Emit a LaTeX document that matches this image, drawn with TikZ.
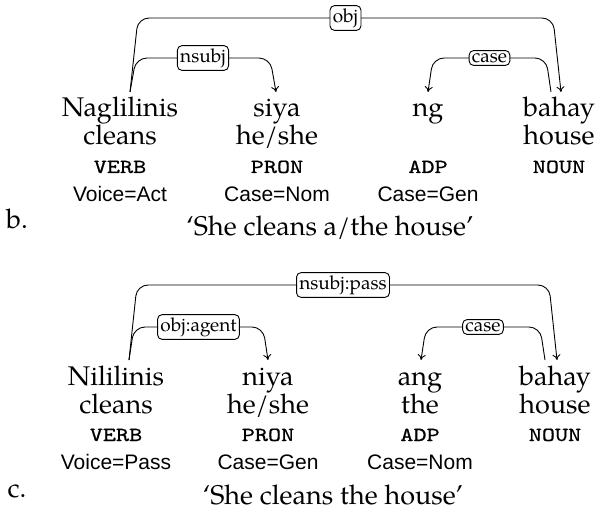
\documentclass[tikz,border=0pt]{standalone}
\usepackage{fontspec}
\setmainfont{TeX Gyre Pagella}
\setsansfont{Liberation Sans}
\newfontfamily\posfont{lmmono10-regular.otf}[FakeStretch=1.25,FakeBold=0.7]
\usetikzlibrary{arrows.meta}
\begin{document}
\begin{tikzpicture}[x=1pt,y=-1pt,
  word/.style={anchor=base,inner sep=0pt,font=\fontsize{27}{32}\selectfont},
  posx/.style={anchor=base,inner sep=0pt,font=\fontsize{20}{24}\posfont},
  feat/.style={anchor=base,inner sep=0pt,font=\fontsize{21}{25}\sffamily},
  lab/.style={draw,rounded corners=4.5pt,fill=white,inner sep=2.8pt,line width=0.9pt,font=\fontsize{19}{21}\selectfont},
  dep/.style={line width=0.9pt,rounded corners=11pt},
  arr/.style={-{To[length=5.5pt,width=8pt]}}
]
\useasboundingbox (0,0) rectangle (597,513);

% ---------- b ----------
\node[word] (b) at (17,229) {b.};
\node[word] (bw1) at (120,117) {Naglilinis};
\node[word] (bg1) at (120,145) {cleans};
\node[posx]  (bp1) at (120,173) {VERB};
\node[feat] (bf1) at (120,202) {Voice=Act};
\node[word] (bw2) at (277,117) {siya};
\node[word] (bg2) at (277,145) {he/she};
\node[posx]  (bp2) at (277,173) {PRON};
\node[feat] (bf2) at (277,202) {Case=Nom};
\node[word] (bw3) at (428,117) {ng};
\node[posx]  (bp3) at (428,173) {ADP};
\node[feat] (bf3) at (428,202) {Case=Gen};
\node[word] (bw4) at (559,117) {bahay};
\node[word] (bg4) at (559,145) {house};
\node[posx]  (bp4) at (559,173) {NOUN};
\node[word] (bt) at (330,236) {‘She cleans a/the house’};

\coordinate (bs1) at (130,92);
\coordinate (bs4) at (551,92);
\coordinate (be2) at (276,92);
\coordinate (be3) at (428,92);
\coordinate (be4) at (561,92);

\draw[dep,arr] (bs1) -- (138,18) -- node[lab]{obj} (553,18) -- (be4);
\draw[dep,arr] (bs1) -- (136,58) -- node[lab]{nsubj} (270,58) -- (be2);
\draw[dep,arr] (bs4) -- (546,58) -- node[lab]{case} (433,58) -- (be3);

% ---------- c ----------
\node[word] (c) at (17,497) {c.};
\node[word] (cw1) at (116,385) {Nililinis};
\node[word] (cg1) at (116,413) {cleans};
\node[posx]  (cp1) at (116,441) {VERB};
\node[feat] (cf1) at (116,469) {Voice=Pass};
\node[word] (cw2) at (268,385) {niya};
\node[word] (cg2) at (268,413) {he/she};
\node[posx]  (cp2) at (268,441) {PRON};
\node[feat] (cf2) at (268,469) {Case=Gen};
\node[word] (cw3) at (420,385) {ang};
\node[word] (cg3) at (420,413) {the};
\node[posx]  (cp3) at (420,441) {ADP};
\node[feat] (cf3) at (420,469) {Case=Nom};
\node[word] (cw4) at (555,385) {bahay};
\node[word] (cg4) at (555,413) {house};
\node[posx]  (cp4) at (555,441) {NOUN};
\node[word] (ct) at (333,504) {‘She cleans the house’};

\coordinate (cs1) at (129,360);
\coordinate (cs4) at (545,360);
\coordinate (ce2) at (268,360);
\coordinate (ce3) at (421,360);
\coordinate (ce4) at (557,360);

\draw[dep,arr] (cs1) -- (137,285) -- node[lab]{nsubj:pass} (549,285) -- (ce4);
\draw[dep,arr] (cs1) -- (134,327) -- node[lab]{obj:agent} (263,327) -- (ce2);
\draw[dep,arr] (cs4) -- (540,327) -- node[lab]{case} (426,327) -- (ce3);
\end{tikzpicture}
\end{document}
